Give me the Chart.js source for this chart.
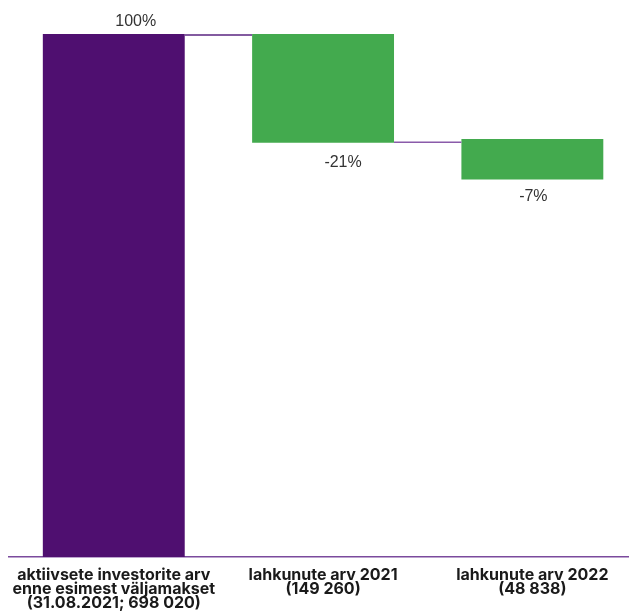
<!DOCTYPE html>
<html><head><meta charset="utf-8">
<script src="https://cdn.jsdelivr.net/npm/chart.js@4"></script>
<style>html,body{margin:0;padding:0;overflow:hidden;background:#fff}#wrap{width:637px;height:612px}</style>
</head><body><div id="wrap"><canvas id="c"></canvas></div>
<script>
const categories = [
  ["aktiivsete investorite arv","enne esimest väljamakset","(31.08.2021; 698 020)"],
  ["lahkunute arv 2021","(149 260)"],
  ["lahkunute arv 2022","(48 838)"]
];
const barStart = [0, 79.2, 72.2];
const barEnd   = [100, 100, 79.9];
const connectorLevels = [100, 79.5];
const valueLabels = ["100%", "-21%", "-7%"];
const barColors = ["#4f0f70", "#43aa4e", "#43aa4e"];

const connectorPlugin = {
  id: 'connectors',
  afterDatasetsDraw(chart) {
    const ctx = chart.ctx, meta = chart.getDatasetMeta(0), y = chart.scales.y;
    ctx.save();
    const colors = ['#5a2580', '#8a5aaa'];
    ctx.lineWidth = 1.5;
    for (let i = 0; i < meta.data.length - 1; i++) {
      const a = meta.data[i], b = meta.data[i+1];
      const yy = y.getPixelForValue(connectorLevels[i]) + 1;
      ctx.strokeStyle = colors[i];
      ctx.beginPath();
      ctx.moveTo(a.x + a.width/2, yy);
      ctx.lineTo(b.x - b.width/2, yy);
      ctx.stroke();
    }
    ctx.fillStyle = '#333';
    ctx.font = '16px "Liberation Sans", Arial, sans-serif';
    ctx.textAlign = 'center';
    ctx.textBaseline = 'alphabetic';
    const dxs = [22, 20, 1];
    meta.data.forEach((el, i) => {
      if (i === 0) {
        ctx.fillText(valueLabels[i], el.x + dxs[i], y.getPixelForValue(barEnd[i]) - 8);
      } else {
        const off = i === 1 ? 24 : 22;
        ctx.fillText(valueLabels[i], el.x + dxs[i], y.getPixelForValue(barStart[i]) + off);
      }
    });
    ctx.restore();
  }
};

new Chart(document.getElementById('c'), {
  type: 'bar',
  data: {
    labels: categories,
    datasets: [{
      data: barStart.map((s, i) => [s, barEnd[i]]),
      backgroundColor: barColors,
      borderWidth: 0,
      barPercentage: 0.678,
      categoryPercentage: 1
    }]
  },
  options: {
    responsive: true,
    maintainAspectRatio: false,
    animation: false,
    layout: { padding: { top: 34, left: 9, right: 0, bottom: -9 } },
    plugins: { legend: { display: false }, tooltip: { enabled: false } },
    scales: {
      y: { display: false, min: 0, max: 100 },
      x: {
        grid: { display: false, drawTicks: false },
        border: { display: true, color: '#7b4a9d', width: 1.5 },
        ticks: {
          color: '#1a1a1a',
          padding: 11,
          maxRotation: 0,
          autoSkip: false,
          font: { family: 'Inter, "Liberation Sans", Arial, sans-serif', size: 16, weight: 'bold', lineHeight: '14px' }
        }
      }
    }
  },
  plugins: [connectorPlugin]
});
</script></body></html>
